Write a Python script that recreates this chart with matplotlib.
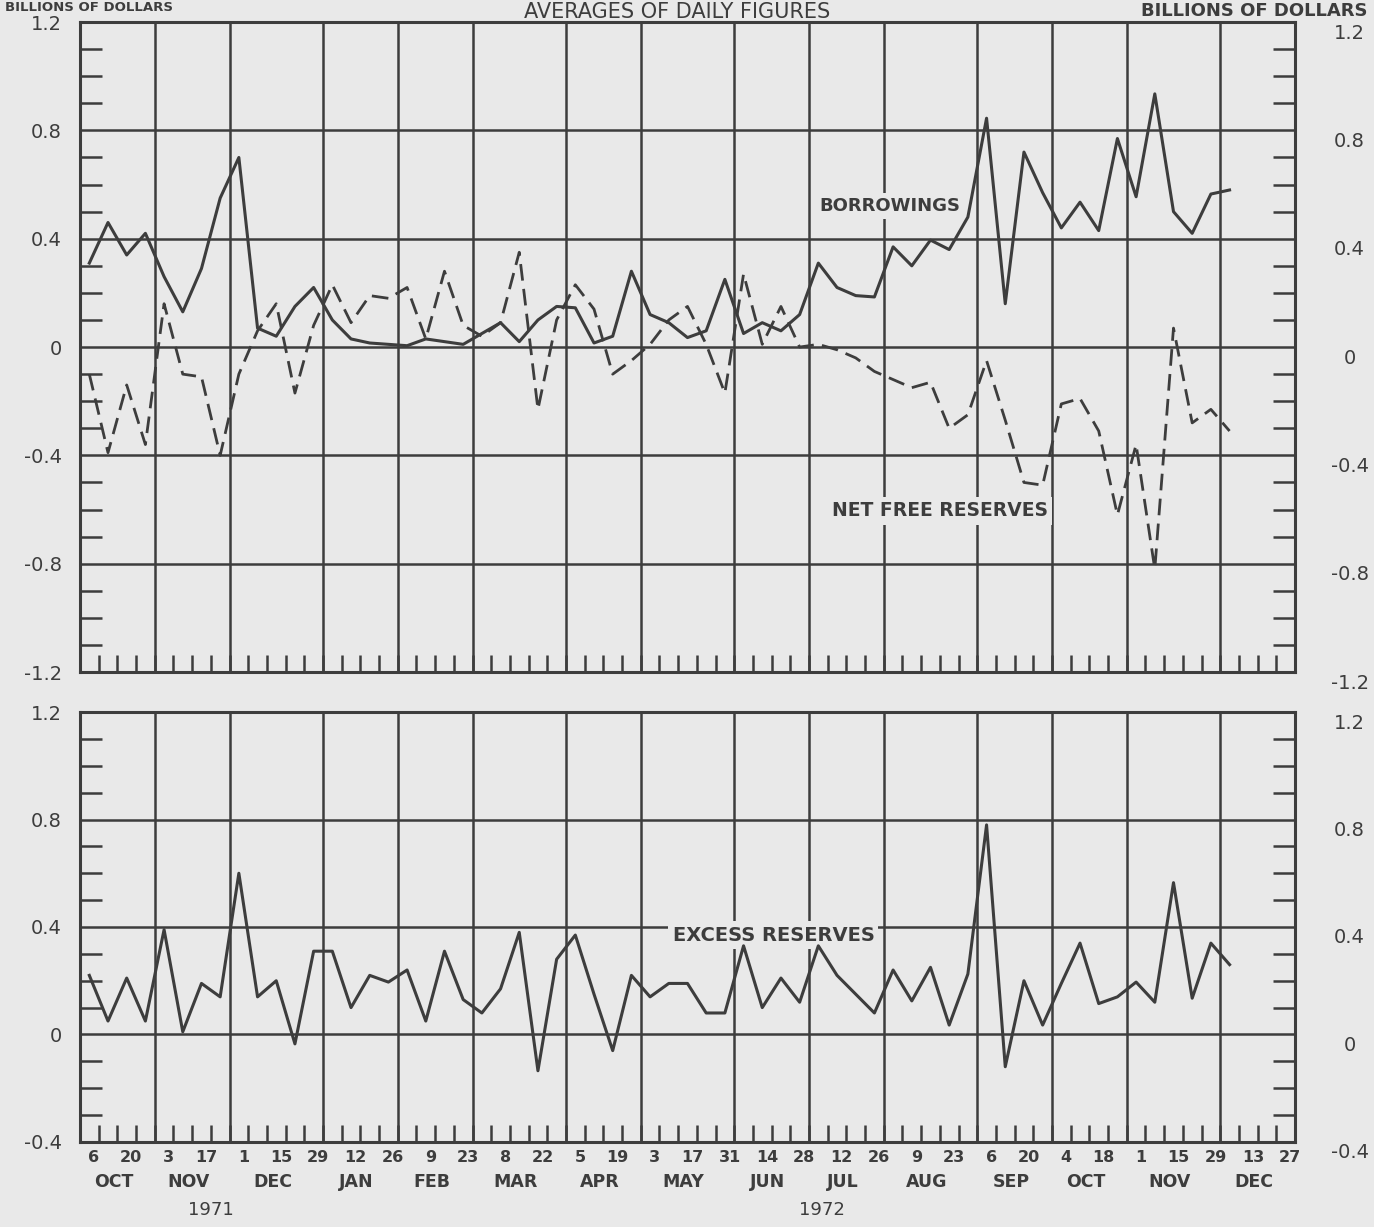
import matplotlib
matplotlib.use("Agg")
import matplotlib.pyplot as plt
from matplotlib.ticker import MultipleLocator
from matplotlib.transforms import offset_copy, blended_transform_factory
import numpy as np

plt.rcParams['font.family'] = ['DejaVu Sans']
plt.rcParams['axes.unicode_minus'] = False

PAPER = '#e9e9e9'
INK = '#3d3d3d'

# weekly axis, Oct 1971 - Dec 1972 (Wednesdays)
months = ['OCT', 'NOV', 'DEC', 'JAN', 'FEB', 'MAR', 'APR', 'MAY',
          'JUN', 'JUL', 'AUG', 'SEP', 'OCT', 'NOV', 'DEC']
weeks_per_month = [4, 4, 5, 4, 4, 5, 4, 5, 4, 4, 5, 4, 4, 5, 4]
day_labels = ['6', '20', '3', '17', '1', '15', '29', '12', '26', '9', '23',
              '8', '22', '5', '19', '3', '17', '31', '14', '28', '12', '26',
              '9', '23', '6', '20', '4', '18', '1', '15', '29', '13', '27']
years = ['1971', '1972']

# billions of dollars, weekly averages of daily figures
borrowings = [0.31, 0.46, 0.34, 0.42, 0.26, 0.13, 0.29, 0.55, 0.70, 0.07,
              0.04, 0.15, 0.22, 0.10, 0.03, 0.015, 0.01, 0.005, 0.03, 0.02,
              0.01, 0.05, 0.09, 0.02, 0.10, 0.15, 0.145, 0.015, 0.04, 0.28,
              0.12, 0.09, 0.035, 0.06, 0.25, 0.05, 0.09, 0.06, 0.12, 0.31,
              0.22, 0.19, 0.185, 0.37, 0.30, 0.395, 0.36, 0.48, 0.845, 0.16,
              0.72, 0.57, 0.44, 0.535, 0.43, 0.77, 0.555, 0.935, 0.50, 0.42,
              0.565, 0.58]

net_free_reserves = [-0.10, -0.39, -0.14, -0.36, 0.16, -0.10, -0.11, -0.40, -0.10, 0.06,
                     0.16, -0.17, 0.08, 0.23, 0.09, 0.19, 0.18, 0.22, 0.03, 0.28,
                     0.08, 0.04, 0.09, 0.35, -0.23, 0.10, 0.23, 0.14, -0.10, -0.05,
                     0.01, 0.10, 0.15, 0.01, -0.17, 0.27, 0.01, 0.15, 0.0, 0.01,
                     -0.01, -0.04, -0.09, -0.12, -0.15, -0.13, -0.30, -0.25, -0.05, -0.27,
                     -0.50, -0.51, -0.21, -0.19, -0.31, -0.62, -0.36, -0.82, 0.07, -0.28,
                     -0.23, -0.31]

excess_reserves = [0.22, 0.05, 0.21, 0.05, 0.39, 0.01, 0.19, 0.14, 0.60, 0.14,
                   0.20, -0.035, 0.31, 0.31, 0.10, 0.22, 0.195, 0.24, 0.05, 0.31,
                   0.13, 0.08, 0.17, 0.38, -0.135, 0.28, 0.37, 0.15, -0.06, 0.22,
                   0.14, 0.19, 0.19, 0.08, 0.08, 0.33, 0.10, 0.21, 0.12, 0.33,
                   0.22, 0.15, 0.08, 0.24, 0.125, 0.25, 0.035, 0.225, 0.78, -0.12,
                   0.20, 0.035, 0.19, 0.34, 0.115, 0.14, 0.195, 0.12, 0.565, 0.135,
                   0.34, 0.26]

n_weeks = sum(weeks_per_month)
month_edges = np.cumsum([0] + weeks_per_month)
x = np.arange(len(borrowings)) + 0.5


def fmt(v):
    v = round(v, 1)
    return '0' if abs(v) < 1e-9 else f'{v:.1f}'


def base_panel(ax, ymin, ymax):
    """Grid paper look: month lines, 0.4 lines, weekly and 0.1 ticks."""
    ax.set_facecolor(PAPER)
    ax.set_xlim(0, n_weeks)
    ax.set_ylim(ymin, ymax)
    for edge in month_edges[1:-1]:
        ax.axvline(edge, color=INK, lw=1.8, zorder=1)
    majors = np.round(np.arange(ymin, ymax + 0.01, 0.4), 1)
    for v in majors[1:-1]:
        ax.axhline(v, color=INK, lw=1.8, zorder=1)
    for s in ax.spines.values():
        s.set_color(INK)
        s.set_linewidth(2.2)

    ax.set_xticks([])
    ax.set_xticks(np.arange(1, n_weeks), minor=True)
    ax.tick_params(axis='x', which='minor', direction='in', length=12,
                   width=1.8, color=INK, bottom=True, top=False,
                   labelbottom=False)

    ax.set_yticks(majors)
    ax.set_yticklabels([fmt(v) for v in majors])
    ax.yaxis.set_minor_locator(MultipleLocator(0.1))
    ax.tick_params(axis='y', which='major', length=0, pad=13,
                   labelsize=14, labelcolor=INK)
    ax.tick_params(axis='y', which='minor', direction='in', length=16,
                   width=1.8, color=INK, left=True, right=True)

    # right hand labels sit a little below their lines
    tr = offset_copy(ax.get_yaxis_transform(), fig=ax.figure, y=-11, units='dots')
    for v in majors:
        ax.text(1.045, v, fmt(v), transform=tr, ha='center', va='center',
                fontsize=14, color=INK)


fig = plt.figure(figsize=(13.74, 12.27), dpi=100, facecolor=PAPER)
ax_top = fig.add_axes([0.0582, 0.4523, 0.8843, 0.5297])
ax_bot = fig.add_axes([0.0582, 0.0693, 0.8843, 0.3504])

base_panel(ax_top, -1.2, 1.2)
base_panel(ax_bot, -0.4, 1.2)

ax_top.plot(x, borrowings, color=INK, lw=2.2, zorder=3)
ax_top.plot(x, net_free_reserves, color=INK, lw=2.0, dashes=(6, 3), zorder=3)
ax_bot.plot(x, excess_reserves, color=INK, lw=2.2, zorder=3)

label_box = dict(facecolor=PAPER, edgecolor='none', pad=3)
ax_top.text(43.35, 0.52, 'BORROWINGS', ha='center', va='center', fontsize=13,
            fontweight='bold', color=INK, bbox=label_box, zorder=2)
ax_top.text(46.0, -0.605, 'NET FREE RESERVES', ha='center', va='center',
            fontsize=13.5, fontweight='bold', color=INK, bbox=label_box, zorder=2)
ax_bot.text(37.1, 0.37, 'EXCESS RESERVES', ha='center', va='center',
            fontsize=14, fontweight='bold', color=INK, bbox=label_box, zorder=2)

# date labels under the lower panel
trx = blended_transform_factory(ax_bot.transData, ax_bot.transAxes)
for j, lab in enumerate(day_labels):
    ax_bot.text(2 * j + 0.75, -0.037, lab, transform=trx, ha='center',
                va='center', fontsize=11.5, fontweight='bold', color=INK)
for k, name in enumerate(months):
    centre = (month_edges[k] + month_edges[k + 1]) / 2 - 0.2
    ax_bot.text(centre, -0.093, name, transform=trx, ha='center', va='center',
                fontsize=12.5, fontweight='bold', color=INK)
ax_bot.text(7.0, -0.158, years[0], transform=trx, ha='center', va='center',
            fontsize=13, color=INK)
ax_bot.text(39.7, -0.158, years[1], transform=trx, ha='center', va='center',
            fontsize=13, color=INK)

# headings along the top edge
fig.text(0.493, 1 - 18 / 1227, 'AVERAGES OF DAILY FIGURES', ha='center',
         va='baseline', fontsize=15, color=INK)
fig.text(0.995, 1 - 16 / 1227, 'BILLIONS OF DOLLARS', ha='right',
         va='baseline', fontsize=13, fontweight='bold', color=INK)
fig.text(0.004, 1 - 11 / 1227, 'BILLIONS OF DOLLARS', ha='left',
         va='baseline', fontsize=9.5, fontweight='bold', color=INK)

fig.savefig('out.png', dpi=100, facecolor=PAPER)
